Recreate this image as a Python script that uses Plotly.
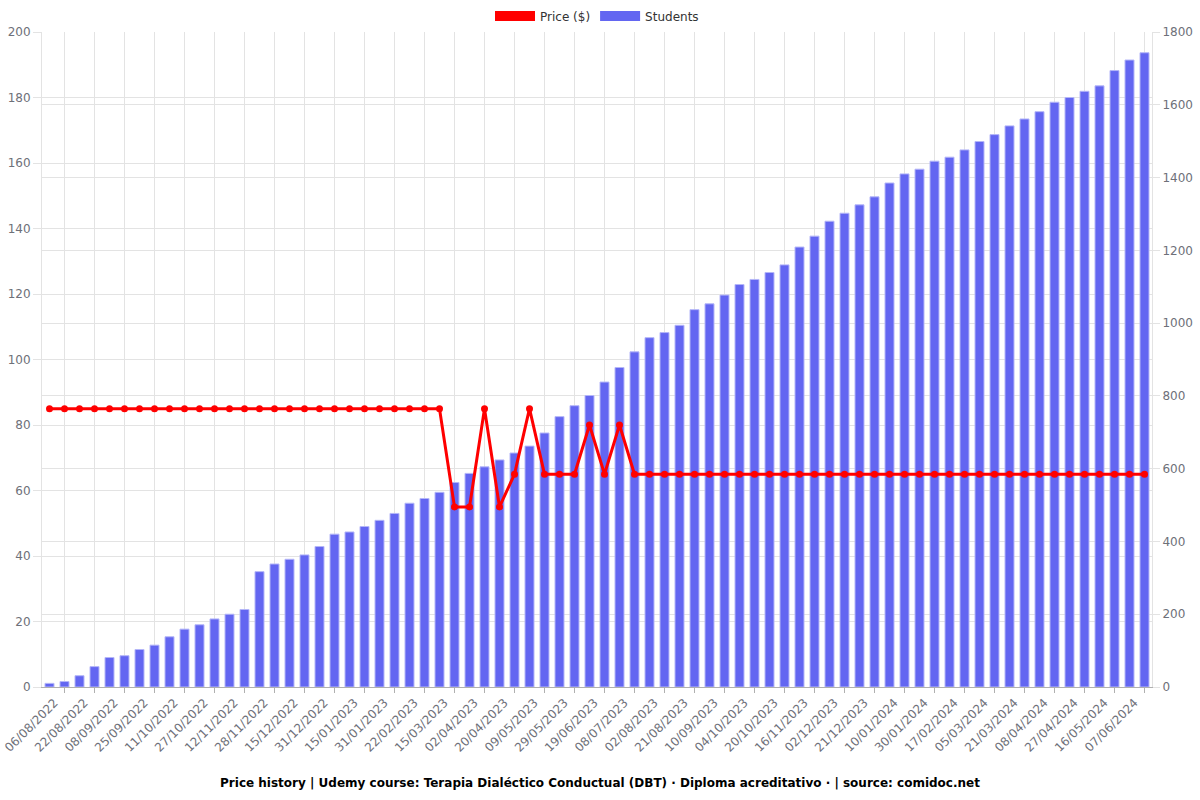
import plotly.graph_objects as go

# Tick labels shown on the category axis (every other observation)
date_labels = [
    "06/08/2022", "22/08/2022", "08/09/2022", "25/09/2022", "11/10/2022", "27/10/2022",
    "12/11/2022", "28/11/2022", "15/12/2022", "31/12/2022", "15/01/2023", "31/01/2023",
    "22/02/2023", "15/03/2023", "02/04/2023", "20/04/2023", "09/05/2023", "29/05/2023",
    "19/06/2023", "08/07/2023", "02/08/2023", "21/08/2023", "10/09/2023", "04/10/2023",
    "20/10/2023", "16/11/2023", "02/12/2023", "21/12/2023", "10/01/2024", "30/01/2024",
    "17/02/2024", "05/03/2024", "21/03/2024", "08/04/2024", "27/04/2024", "16/05/2024",
    "07/06/2024",
]

students = [
    10, 15, 31, 56, 81, 86, 103, 115, 138, 159, 171, 187, 200, 213,
    317, 338, 351, 363, 386, 420, 426, 441, 458, 477, 505, 518, 535, 562, 587, 605,
    624, 643, 662, 698,
    743, 773, 801, 838, 878, 921, 960, 974, 994, 1037, 1053, 1077, 1106, 1120, 1139, 1160,
    1209, 1239, 1280,
    1302, 1325, 1347, 1385, 1410, 1423, 1445, 1456, 1476, 1499, 1518, 1542, 1561, 1581,
    1607, 1620, 1637, 1652, 1694, 1723, 1743,
]

price = [
    84.99, 84.99, 84.99, 84.99, 84.99, 84.99, 84.99, 84.99, 84.99, 84.99,
    84.99, 84.99, 84.99, 84.99, 84.99, 84.99, 84.99, 84.99, 84.99, 84.99,
    84.99, 84.99, 84.99, 84.99, 84.99, 84.99, 84.99,
    54.99, 54.99, 84.99, 54.99, 64.99, 84.99, 64.99, 64.99, 64.99, 79.99,
    64.99, 79.99,
    64.99, 64.99, 64.99, 64.99, 64.99, 64.99, 64.99, 64.99, 64.99, 64.99,
    64.99, 64.99, 64.99, 64.99, 64.99, 64.99, 64.99, 64.99, 64.99, 64.99,
    64.99, 64.99, 64.99, 64.99, 64.99, 64.99, 64.99, 64.99, 64.99, 64.99,
    64.99, 64.99, 64.99, 64.99, 64.99,
]

n = len(students)
x = list(range(n))
label_pos = x[0::2]
grid_pos = x[1::2]

RED = "#ff0000"
BLUE = "#6366f1"
GRID = "#e3e3e3"
TICKC = "#6e7079"
FONT = "DejaVu Sans"

fig = go.Figure()

fig.add_trace(go.Bar(
    x=x, y=students, name="Students", yaxis="y",
    marker=dict(color=BLUE, line=dict(color="#b4b6f8", width=1)),
    width=0.6, showlegend=False, legendgroup="s",
))
fig.add_trace(go.Scatter(
    x=x, y=price, name="Price ($)", yaxis="y2", mode="lines+markers",
    line=dict(color=RED, width=3), marker=dict(color=RED, size=7),
    showlegend=False, legendgroup="p",
))
# legend entries (rectangle-like swatches)
fig.add_trace(go.Scatter(
    x=[None], y=[None], name="Price ($)", yaxis="y2", mode="lines",
    line=dict(color=RED, width=14), legendgroup="p",
))
fig.add_trace(go.Scatter(
    x=[None], y=[None], name="Students", yaxis="y2", mode="lines",
    line=dict(color=BLUE, width=14), legendgroup="s",
))

fig.update_layout(
    width=1200, height=800,
    margin=dict(l=42, r=48, t=32, b=113, autoexpand=False),
    paper_bgcolor="white", plot_bgcolor="white",
    font=dict(family=FONT, size=12, color=TICKC),
    separators=". ",
    bargap=0.4,
    title=dict(
        text="<b>Price history | Udemy course: Terapia Dialéctico Conductual (DBT) · Diploma acreditativo · | source: comidoc.net</b>",
        x=0.5, xanchor="center", y=1 - 783 / 800, yanchor="middle", yref="container",
        font=dict(family=FONT, size=12, color="#000000"),
    ),
    legend=dict(
        orientation="h", x=0.5, xanchor="center", y=1 - 16 / 800, yanchor="middle",
        yref="container", font=dict(family=FONT, size=12, color="#333333"),
        traceorder="normal", itemwidth=40,
    ),
    xaxis=dict(
        range=[-0.5, n - 0.5], automargin=False, ticklabeloverflow="allow",
        tickmode="array", tickvals=label_pos, ticktext=date_labels,
        tickangle=-45, ticks="", showgrid=False, zeroline=False,
        ticklabelshift=5, ticklabelstandoff=3,
        showline=True, linecolor="#b0b0b0", linewidth=1,
        tickfont=dict(family=FONT, size=12, color=TICKC),
        minor=dict(tickmode="array", tickvals=grid_pos, ticks="outside", ticklen=5,
                   tickcolor="#b0b0b0", showgrid=True, gridcolor=GRID, gridwidth=1),
    ),
    yaxis=dict(
        side="right", range=[0, 1800], tickmode="linear", tick0=0, dtick=200,
        automargin=False,
        showgrid=True, gridcolor=GRID, zeroline=False,
        ticks="outside", ticklen=7, tickcolor=GRID,
        showline=True, linecolor=GRID,
        tickfont=dict(family=FONT, size=12, color=TICKC),
    ),
    yaxis2=dict(
        side="left", overlaying="y", range=[0, 200], tickmode="linear", tick0=0, dtick=20,
        automargin=False,
        showgrid=True, gridcolor=GRID, zeroline=False,
        ticks="outside", ticklen=8, tickcolor=GRID,
        showline=True, linecolor=GRID,
        tickfont=dict(family=FONT, size=12, color=TICKC),
    ),
)

fig.write_html("out.html")
